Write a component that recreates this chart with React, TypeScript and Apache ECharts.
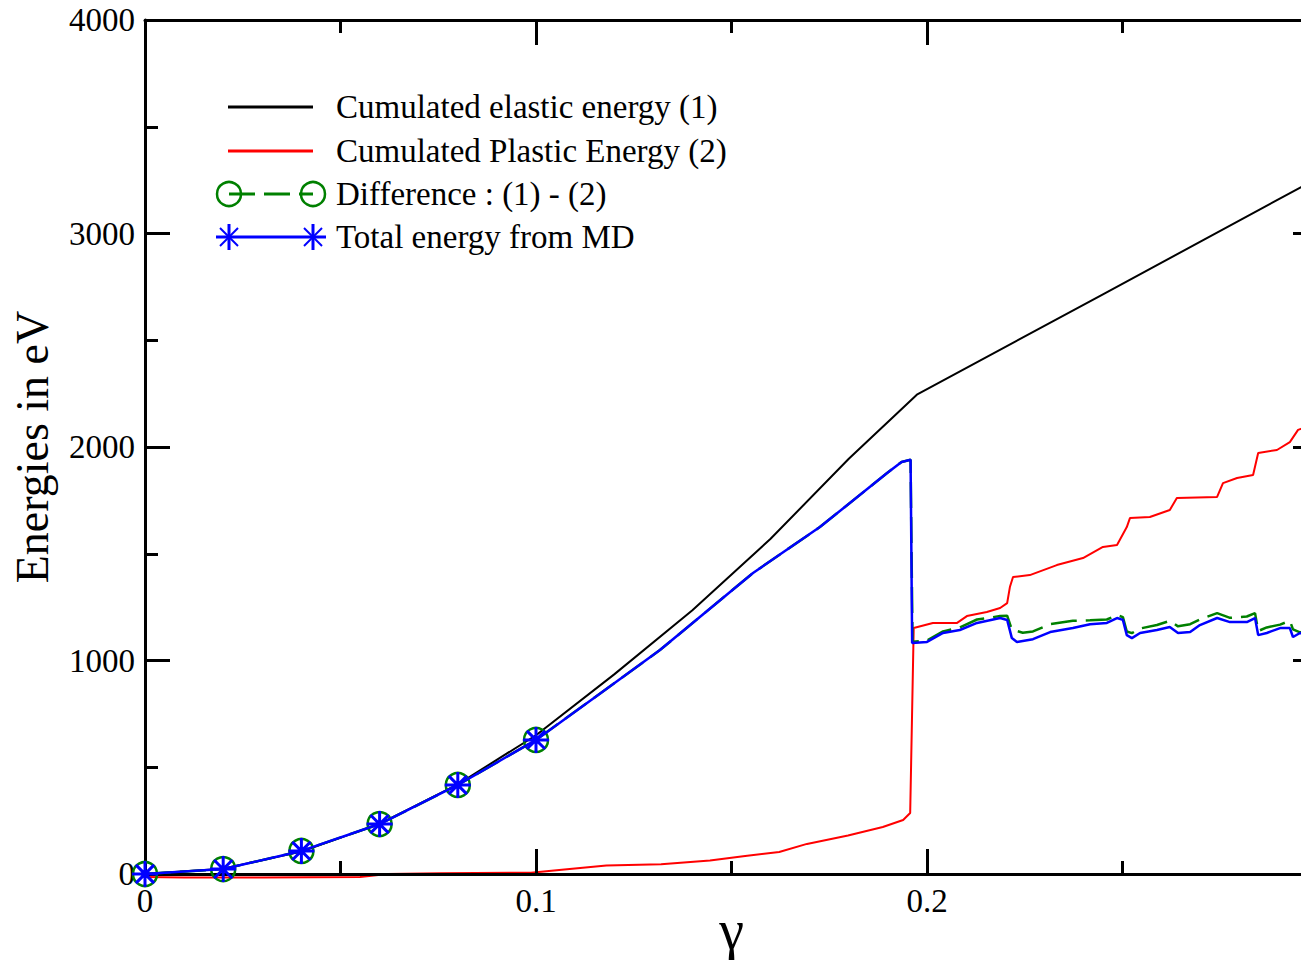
import React, { useEffect, useRef } from "react";
import * as echarts from "echarts";

// Series labels
const seriesNames = [
  "Cumulated elastic energy (1)",
  "Cumulated Plastic Energy (2)",
  "Difference : (1) - (2)",
  "Total energy from MD",
];

// [gamma, energy in eV]
const elastic: [number, number][] = [
  [0, 0], [0.02, 25], [0.04, 105], [0.06, 235], [0.08, 420], [0.1, 650],
  [0.12, 935], [0.14, 1235], [0.16, 1570], [0.18, 1945], [0.1974, 2245],
  [0.245, 2715], [0.2995, 3255],
];

const plastic: [number, number][] = [
  [0, -14], [0.01, -16], [0.03, -16], [0.055, -14], [0.062, 0], [0.0757, 4],
  [0.0987, 6], [0.1066, 20], [0.118, 40], [0.132, 46], [0.1445, 63],
  [0.1535, 84], [0.1622, 103], [0.1693, 141], [0.1798, 180], [0.1887, 220],
  [0.1939, 253], [0.1957, 286], [0.1966, 1152], [0.2015, 1176], [0.2077, 1176],
  [0.2102, 1208], [0.2153, 1227], [0.2187, 1246], [0.2205, 1269], [0.2212, 1344],
  [0.222, 1391], [0.2263, 1400], [0.2332, 1447], [0.2399, 1480], [0.245, 1532],
  [0.2486, 1541], [0.2511, 1625], [0.2519, 1667], [0.257, 1672], [0.2621, 1705],
  [0.2639, 1761], [0.2742, 1766], [0.2757, 1831], [0.2793, 1855], [0.2834, 1869],
  [0.2847, 1972], [0.2895, 1986], [0.2928, 2023], [0.2949, 2080], [0.2995, 2110],
];

const difference: [number, number][] = [
  [0, 0], [0.02, 23], [0.04, 108], [0.06, 234], [0.08, 417], [0.1, 628],
  [0.115, 827], [0.1317, 1049], [0.1555, 1410], [0.1726, 1625], [0.1898, 1878],
  [0.1935, 1930], [0.1958, 1940], [0.1963, 1088], [0.2, 1094], [0.2041, 1136],
  [0.2084, 1155], [0.2128, 1192], [0.2187, 1208], [0.2205, 1210], [0.2217, 1145],
  [0.2245, 1130], [0.2271, 1136], [0.2315, 1170], [0.2373, 1186], [0.2417, 1188],
  [0.246, 1192], [0.2486, 1213], [0.2501, 1203], [0.2511, 1136], [0.2524, 1128],
  [0.2545, 1150], [0.2588, 1166], [0.2621, 1186], [0.2642, 1160], [0.2673, 1170],
  [0.2698, 1192], [0.2742, 1222], [0.2775, 1200], [0.2818, 1206], [0.2839, 1222],
  [0.2847, 1138], [0.2869, 1155], [0.2903, 1168], [0.2928, 1186], [0.2936, 1146],
  [0.2954, 1132], [0.2995, 1138],
];

const mdTotal: [number, number][] = [
  [0, 0], [0.02, 23], [0.04, 108], [0.06, 234], [0.08, 417], [0.1, 628],
  [0.115, 827], [0.1317, 1049], [0.1555, 1410], [0.1726, 1625], [0.1898, 1878],
  [0.1935, 1930], [0.1958, 1940], [0.1962, 1082], [0.2, 1087], [0.2041, 1129],
  [0.2084, 1143], [0.2128, 1176], [0.2187, 1199], [0.2205, 1190], [0.2217, 1105],
  [0.223, 1087], [0.2271, 1100], [0.2315, 1133], [0.2373, 1152], [0.2417, 1170],
  [0.246, 1176], [0.2486, 1199], [0.2501, 1190], [0.2511, 1119], [0.2524, 1105],
  [0.2545, 1129], [0.2588, 1143], [0.2621, 1157], [0.2642, 1129], [0.2673, 1133],
  [0.2698, 1166], [0.2742, 1199], [0.2775, 1180], [0.2818, 1180], [0.2839, 1199],
  [0.2847, 1119], [0.2869, 1129], [0.2903, 1152], [0.2928, 1152], [0.2936, 1110],
  [0.2954, 1129], [0.2995, 1125],
];

// Only the first points (gamma = 0 .. 0.1) carry markers
const markedPoints = 6;

const gammaAxis = { min: 0, max: 0.3, interval: 0.1 };
const energyAxis = { min: 0, max: 4000, interval: 1000 };

const FONT = '"Liberation Serif", "Times New Roman", serif';
const STAR = "path://M0,-10L0,10M-10,0L10,0M-7,-7L7,7M-7,7L7,-7";

const withMarkers = (pts: [number, number][]) =>
  pts.map((p, i) => (i < markedPoints ? { value: p } : { value: p, symbol: "none" }));

function legendGraphics() {
  const rowY = [107, 151, 194, 237];
  const x0 = 229;
  const x1 = 313;
  const textX = 336;
  const els: any[] = [];
  // black and red plain lines
  els.push({ type: "line", shape: { x1: 228, y1: rowY[0], x2: x1, y2: rowY[0] }, style: { stroke: "#000", lineWidth: 3 } });
  els.push({ type: "line", shape: { x1: 228, y1: rowY[1], x2: x1, y2: rowY[1] }, style: { stroke: "#ff0000", lineWidth: 3 } });
  // green dashed with circles
  els.push({ type: "line", shape: { x1: x0, y1: rowY[2], x2: x1, y2: rowY[2] }, style: { stroke: "#008000", lineWidth: 3, lineDash: [26, 9] } });
  [x0, x1].forEach((cx) =>
    els.push({ type: "circle", shape: { cx, cy: rowY[2], r: 12 }, style: { fill: "none", stroke: "#008000", lineWidth: 2.5 } })
  );
  // blue solid with stars
  els.push({ type: "line", shape: { x1: 216, y1: rowY[3], x2: 326, y2: rowY[3] }, style: { stroke: "#0000ff", lineWidth: 3 } });
  [x0, x1].forEach((cx) => {
    const cy = rowY[3];
    els.push({ type: "line", shape: { x1: cx, y1: cy - 13, x2: cx, y2: cy + 13 }, style: { stroke: "#0000ff", lineWidth: 3 } });
    els.push({ type: "line", shape: { x1: cx - 9, y1: cy - 9, x2: cx + 9, y2: cy + 9 }, style: { stroke: "#0000ff", lineWidth: 2 } });
    els.push({ type: "line", shape: { x1: cx - 9, y1: cy + 9, x2: cx + 9, y2: cy - 9 }, style: { stroke: "#0000ff", lineWidth: 2 } });
  });
  seriesNames.forEach((name, i) =>
    els.push({
      type: "text",
      x: textX,
      y: rowY[i],
      style: { text: name, fontFamily: FONT, fontSize: 33, fill: "#000", verticalAlign: "middle", align: "left" },
    })
  );
  return els;
}

export default function App() {
  const ref = useRef<HTMLDivElement>(null);

  useEffect(() => {
    if (!ref.current) return;
    const chart = echarts.init(ref.current, undefined, { renderer: "svg" });

    const axisLine = { show: true, onZero: false, lineStyle: { color: "#000", width: 3 } };
    const tick = { show: true, inside: true, length: 25, lineStyle: { color: "#000", width: 3 } };
    const minor = { show: true, splitNumber: 2, length: 13, lineStyle: { color: "#000", width: 3 } };
    const label = { fontFamily: FONT, fontSize: 33, color: "#000" };

    chart.setOption({
      animation: false,
      backgroundColor: "#fff",
      grid: { left: 145, right: 12, top: 20, bottom: 86, containLabel: false, outerBoundsMode: "none" },
      xAxis: [
        {
          type: "value",
          position: "bottom",
          ...gammaAxis,
          axisLine,
          axisTick: tick,
          minorTick: minor,
          splitLine: { show: false },
          axisLabel: {
            ...label,
            margin: 10,
            formatter: (v: number) => (v >= 0.3 ? "" : String(Math.round(v * 10) / 10)),
          },
          name: "γ",
          nameLocation: "middle",
          nameGap: 28,
          nameMoveOverlap: false,
          nameTextStyle: { fontFamily: FONT, fontSize: 56, color: "#000" },
        },
        {
          type: "value",
          position: "top",
          ...gammaAxis,
          axisLine,
          axisTick: tick,
          minorTick: minor,
          splitLine: { show: false },
          axisLabel: { show: false },
        },
      ],
      yAxis: [
        {
          type: "value",
          position: "left",
          ...energyAxis,
          axisLine,
          axisTick: tick,
          minorTick: minor,
          splitLine: { show: false },
          axisLabel: { ...label, margin: 10, formatter: (v: number) => String(v) },
          name: "Energies in eV",
          nameLocation: "middle",
          nameGap: 90,
          nameMoveOverlap: false,
          nameTextStyle: { fontFamily: FONT, fontSize: 46, color: "#000" },
        },
        {
          type: "value",
          position: "right",
          ...energyAxis,
          axisLine,
          axisTick: tick,
          minorTick: minor,
          splitLine: { show: false },
          axisLabel: { show: false },
        },
      ],
      graphic: legendGraphics(),
      series: [
        {
          name: seriesNames[0],
          type: "line",
          data: elastic,
          showSymbol: false,
          symbol: "none",
          lineStyle: { color: "#000", width: 2 },
          z: 2,
        },
        {
          name: seriesNames[1],
          type: "line",
          data: plastic,
          symbol: "none",
          clip: false,
          lineStyle: { color: "#ff0000", width: 2 },
          z: -1,
        },
        {
          name: seriesNames[2],
          type: "line",
          data: withMarkers(difference),
          symbol: "circle",
          symbolSize: 24,
          itemStyle: { color: "transparent", borderColor: "#008000", borderWidth: 2.5 },
          lineStyle: { color: "#008000", width: 2.5, type: [26, 9] },
          z: 3,
        },
        {
          name: seriesNames[3],
          type: "line",
          data: withMarkers(mdTotal),
          symbol: STAR,
          symbolSize: 26,
          itemStyle: { color: "#0000ff", borderColor: "#0000ff", borderWidth: 3 },
          lineStyle: { color: "#0000ff", width: 2.5 },
          z: 4,
        },
      ],
    });

    return () => chart.dispose();
  }, []);

  return (
    <div
      ref={ref}
      style={{ position: "fixed", left: 0, top: 0, width: 1330, height: 960, background: "#fff" }}
    />
  );
}
